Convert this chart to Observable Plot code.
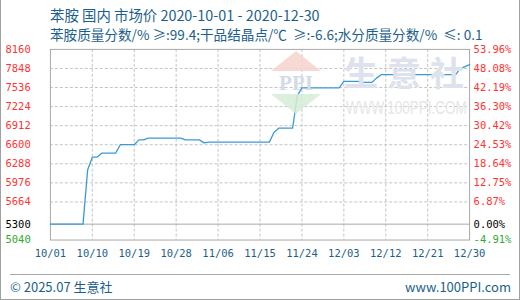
<!DOCTYPE html>
<html>
<head>
<meta charset="utf-8">
<script src="https://cdn.jsdelivr.net/npm/d3@7"></script>
<script src="https://cdn.jsdelivr.net/npm/@observablehq/plot@0.6"></script>
<style>
  html, body { margin: 0; padding: 0; background: #fff; }
  #wrap { position: relative; width: 520px; height: 300px; overflow: hidden; box-sizing: border-box;
          border-left: 1px solid #a0a0a0; border-right: 1px solid #a0a0a0; border-bottom: 1px solid #a0a0a0; }
  #chart { position: absolute; left: -1px; top: 0; }
  .t { position: absolute; font-family: "Noto Sans CJK SC", "DejaVu Sans", sans-serif; color: #1d5f8c; white-space: pre; }
  .wm { position: absolute; white-space: nowrap; pointer-events: none; line-height: 1; }
</style>
</head>
<body>
<div id="wrap">
  <div id="chart"></div>
  <div class="t" id="title" style="left:49px; top:4px; font-size:14.4px;"></div>
  <div class="t" id="subtitle" style="left:49px; top:24px; font-size:13.6px;"></div>
  <div style="position:absolute; left:9px; top:274px; width:500px; height:1px; background:#a8a8a8;"></div>
  <div class="t" id="footL" style="left:9px; top:277px; font-size:13px;"></div>
  <div class="t" id="footR" style="right:8px; top:277px; font-size:13px;"></div>
</div>
<script>
// ---- data ----
const titleText = "苯胺 国内 市场价 2020-10-01 - 2020-12-30";
const subtitleText = "苯胺质量分数/% ≥:99.4;干品结晶点/℃  ≥:-6.6;水分质量分数/%  ≤: 0.1";
const footLeft = "© 2025.07 生意社";
const footRight = "www.100PPI.com";

const startDate = "2020-10-01";
const endDate = "2020-12-30";
// daily prices (yuan/ton), 10/01 .. 12/30
const prices = [
  5300, 5300, 5300, 5300, 5300, 5300, 5300, 5300,
  6190, 6396, 6396,
  6462, 6462, 6462, 6462,
  6600, 6600, 6600, 6600,
  6680, 6680,
  6708, 6708, 6708, 6708, 6708, 6708, 6708, 6708,
  6680, 6680, 6680, 6680,
  6630,
  6642, 6642, 6642, 6642, 6642, 6642, 6642, 6642, 6642, 6642, 6642, 6642, 6642, 6642,
  6800,
  6870, 6870, 6870, 6870,
  7400,
  7530, 7530, 7530, 7530, 7530, 7530, 7530, 7530, 7530,
  7636, 7636, 7636, 7636,
  7620, 7620, 7620,
  7690,
  7746, 7746, 7746, 7746, 7746, 7746, 7746, 7746, 7746, 7746, 7746, 7746, 7746, 7746, 7746, 7746, 7746,
  7844, 7877, 7910
];
const basePrice = 5300;
const yTicks = [8160, 7848, 7536, 7224, 6912, 6600, 6288, 5976, 5664, 5300, 5040];
const yTickLabelsLeft = ["8160","7848","7536","7224","6912","6600","6288","5976","5664","5300","5040"];
const yTickLabelsRight = ["53.96%","48.08%","42.19%","36.30%","30.42%","24.53%","18.64%","12.75%","6.87%","0.00%","-4.91%"];
const xTickDates = ["2020-10-01","2020-10-10","2020-10-19","2020-10-28","2020-11-06","2020-11-15","2020-11-24","2020-12-03","2020-12-12","2020-12-21","2020-12-30"];
const xTickLabels = ["10/01","10/10","10/19","10/28","11/06","11/15","11/24","12/03","12/12","12/21","12/30"];

// ---- build ----
document.getElementById("title").textContent = titleText;
document.getElementById("subtitle").textContent = subtitleText;
document.getElementById("footL").textContent = footLeft;
document.getElementById("footR").textContent = footRight;

const start = new Date(startDate + "T00:00:00Z");
const series = prices.map((v, i) => ({date: d3.utcDay.offset(start, i), value: v}));
const xt = xTickDates.map(s => new Date(s + "T00:00:00Z"));
const yRows = yTicks.map((v, i) => ({v, left: yTickLabelsLeft[i], right: yTickLabelsRight[i]}));
const tickColor = v => v > basePrice ? "#ff3333" : v === basePrice ? "#000000" : "#33aa33";
const mono = "DejaVu Sans Mono, monospace";

const chart = Plot.plot({
  width: 520,
  height: 300,
  marginTop: 49,
  marginBottom: 60,
  marginLeft: 50,
  marginRight: 50,
  style: {background: "transparent", fontFamily: mono},
  x: {type: "utc", domain: [start, new Date(endDate + "T00:00:00Z")], axis: null},
  y: {domain: [5040, 8160], axis: null},
  marks: [
    Plot.gridY(yTicks.filter(v => v !== basePrice && v !== 5040 && v !== 8160), {stroke: "#c4c4c4", strokeOpacity: 1, strokeDasharray: "3,2"}),
    Plot.gridX(xt.slice(1, -1), {stroke: "#c4c4c4", strokeOpacity: 1, strokeDasharray: "3,2"}),
    Plot.ruleY([basePrice], {stroke: "#a8a8a8", strokeWidth: 1}),
    Plot.frame({stroke: "#a8a8a8"}),
    Plot.line(series, {x: "date", y: "value", stroke: "#3a9ad9", strokeWidth: 1.3, curve: "linear"}),
    Plot.text(yRows, {y: "v", text: "left", frameAnchor: "left", dx: -45, textAnchor: "start", fill: d => tickColor(d.v), fontSize: 10.5, fontFamily: mono}),
    Plot.text(yRows, {y: "v", text: "right", frameAnchor: "right", dx: 4, textAnchor: "start", fill: d => tickColor(d.v), fontSize: 10.5, fontFamily: mono}),
    Plot.text(xt.map((d, i) => ({d, label: xTickLabels[i]})), {x: "d", text: "label", frameAnchor: "bottom", dy: 17, fill: "#1d5f8c", fontSize: 10.5, fontFamily: mono})
  ]
});
document.getElementById("chart").appendChild(chart);

// ---- watermark (decorative) ----
const wrap = document.getElementById("wrap");
const logo = document.createElementNS("http://www.w3.org/2000/svg", "svg");
logo.setAttribute("width", "54"); logo.setAttribute("height", "68");
logo.setAttribute("style", "position:absolute; left:269px; top:50px; pointer-events:none;");
logo.innerHTML =
  '<polygon points="26,1 51,21 1,21" fill="#f7d4cc" opacity="0.85"/>' +
  '<polygon points="1,44 51,44 26,64" fill="#d6ecd6" opacity="0.85"/>' +
  '<text x="26" y="40" text-anchor="middle" font-family="Liberation Serif, serif" font-weight="bold" font-size="21" fill="#d3dae8">PPI</text>';
wrap.appendChild(logo);
const wm1 = document.createElement("div");
wm1.className = "wm";
wm1.textContent = "生意社";
wm1.style.cssText += "left:343px; top:55px; font-size:34px; letter-spacing:9px; color:#dde2ec; font-family:'Noto Sans CJK SC', sans-serif; font-weight:bold;";
wrap.appendChild(wm1);
const wm2 = document.createElement("div");
wm2.className = "wm";
wm2.textContent = "WWW.100PPI.COM";
wm2.style.cssText += "left:345px; top:99px; font-size:18px; color:#e6e6e6; font-family:'Liberation Sans', sans-serif; transform:scaleX(0.75); transform-origin:left top;";
wrap.appendChild(wm2);
</script>
</body>
</html>
